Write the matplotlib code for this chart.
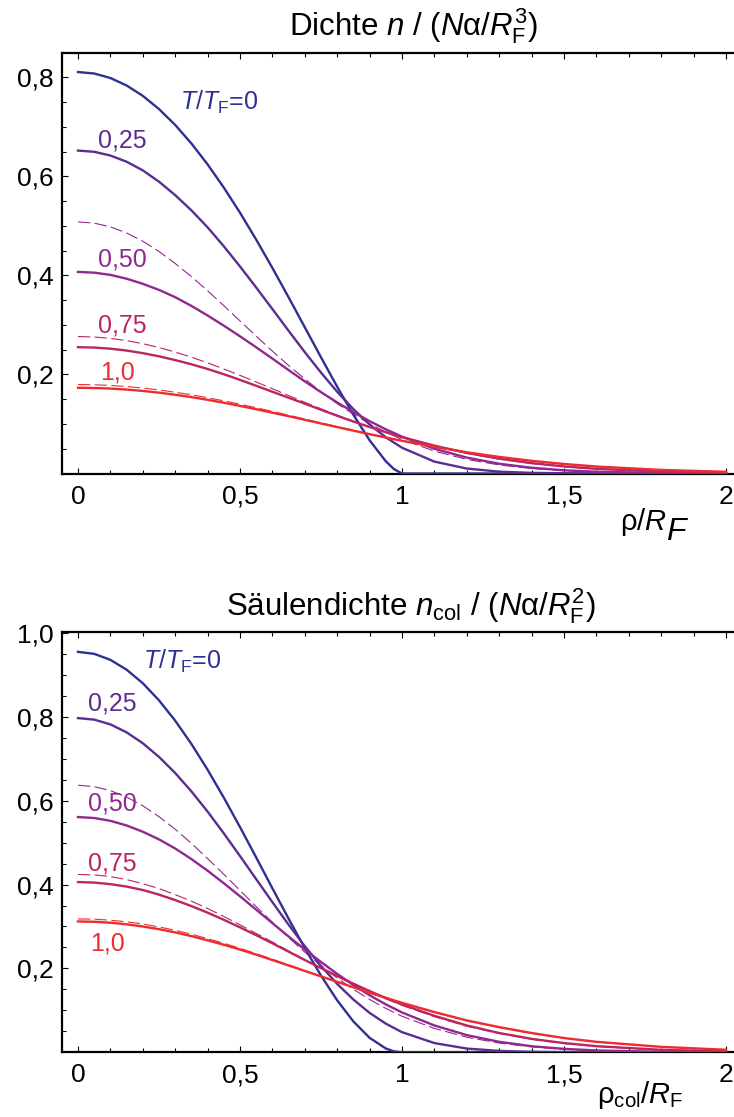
import matplotlib
matplotlib.use("Agg")
import matplotlib.pyplot as plt
from matplotlib.ticker import MultipleLocator, FixedLocator, FuncFormatter

plt.rcParams['font.family'] = ['Liberation Sans', 'DejaVu Sans']
plt.rcParams['mathtext.fontset'] = 'custom'
plt.rcParams['mathtext.rm'] = 'Liberation Sans'
plt.rcParams['mathtext.it'] = 'Liberation Sans:italic'
plt.rcParams['mathtext.sf'] = 'Liberation Sans'
plt.rcParams['mathtext.bf'] = 'Liberation Sans:bold'

# ---------------- data ----------------
x_t0 = [0, .05, .1, .15, .2, .25, .3, .35, .4, .45, .5, .55, .6, .65, .7,
        .75, .8, .85, .9, .95, .975, 1.0, 2.0]
x_grid = [0, .05, .1, .15, .2, .25, .3, .35, .4, .45, .5, .55, .6, .65, .7,
          .75, .8, .85, .9, .95, 1.0, 1.1, 1.2, 1.3, 1.4, 1.5, 1.6, 1.8, 2.0]

# density n
n3d_T000 = [0.8106, 0.8076, 0.7985, 0.7834, 0.7625, 0.7358, 0.7037, 0.6663, 0.6241, 0.5773,
            0.5265, 0.4722, 0.4150, 0.3557, 0.2952, 0.2346, 0.1751, 0.1185, 0.0671, 0.0247,
            0.0089, 0.0, 0.0]
n3d_T025 = [0.652, 0.6495, 0.642, 0.6295, 0.612, 0.5892, 0.562, 0.5313, 0.497, 0.4588,
            0.418, 0.3755, 0.332, 0.2881, 0.245, 0.2037, 0.165, 0.1299, 0.099, 0.0731,
            0.052, 0.024, 0.010, 0.0037, 0.0013, 0.0004, 0.0001, 0.0, 0.0]
n3d_T050 = [0.407, 0.4055, 0.401, 0.3933, 0.383, 0.3707, 0.356, 0.3384, 0.319, 0.2985,
            0.277, 0.2548, 0.232, 0.2088, 0.186, 0.1642, 0.1435, 0.1239, 0.1057, 0.0892,
            0.0744, 0.0500, 0.0321, 0.0197, 0.0116, 0.0065, 0.0035, 0.0009, 0.0002]
n3d_T075 = [0.255, 0.2543, 0.252, 0.2482, 0.243, 0.2366, 0.229, 0.2205, 0.211, 0.2004,
            0.189, 0.1771, 0.165, 0.1530, 0.141, 0.1287, 0.1165, 0.1049, 0.0939, 0.0834,
            0.0736, 0.0562, 0.0416, 0.0300, 0.0210, 0.0143, 0.0095, 0.0038, 0.0014]
n3d_T100 = [0.173, 0.1726, 0.1715, 0.1695, 0.1667, 0.1632, 0.159, 0.1542, 0.1488, 0.1429,
            0.1365, 0.1298, 0.1228, 0.1157, 0.1084, 0.1010, 0.0937, 0.0865, 0.0794, 0.0726,
            0.066, 0.0537, 0.0428, 0.0335, 0.0256, 0.0192, 0.0141, 0.0072, 0.0034]
n3d_cl050 = [0.508, 0.5055, 0.498, 0.4856, 0.469, 0.4483, 0.424, 0.3976, 0.369, 0.3388,
             0.308, 0.2774, 0.247, 0.2182, 0.191, 0.1649, 0.141, 0.1198, 0.1005, 0.0836,
             0.0687, 0.0452, 0.0285, 0.0173, 0.0101, 0.0056, 0.0030, 0.0008, 0.0002]
n3d_cl075 = [0.2765, 0.2756, 0.2728, 0.2683, 0.2621, 0.2544, 0.2452, 0.2348, 0.2234, 0.2111,
             0.1981, 0.1847, 0.1711, 0.1574, 0.1439, 0.1306, 0.1178, 0.1055, 0.0939, 0.0830,
             0.0729, 0.0551, 0.0405, 0.0290, 0.0203, 0.0138, 0.0091, 0.0037, 0.0013]
n3d_cl100 = [0.1796, 0.1792, 0.1778, 0.1756, 0.1726, 0.1687, 0.1641, 0.1589, 0.1530, 0.1467,
             0.1399, 0.1327, 0.1253, 0.1177, 0.1100, 0.1023, 0.0947, 0.0872, 0.0799, 0.0728,
             0.0661, 0.0536, 0.0426, 0.0331, 0.0253, 0.0189, 0.0139, 0.0070, 0.0033]

# column density n_col
ncol_T000 = [0.9549, 0.9502, 0.9359, 0.9124, 0.8801, 0.8393, 0.7908, 0.7353, 0.6738, 0.6073,
             0.5371, 0.4646, 0.3911, 0.3185, 0.2484, 0.1828, 0.1238, 0.0735, 0.0345, 0.0091,
             0.0023, 0.0, 0.0]
ncol_T025 = [0.797, 0.7933, 0.782, 0.7630, 0.737, 0.7044, 0.666, 0.6222, 0.574, 0.5221,
             0.468, 0.4129, 0.358, 0.3043, 0.253, 0.2058, 0.163, 0.1258, 0.094, 0.0683,
             0.048, 0.022, 0.0089, 0.0033, 0.0011, 0.0004, 0.0001, 0.0, 0.0]
ncol_T050 = [0.561, 0.5587, 0.552, 0.5409, 0.526, 0.5077, 0.486, 0.4608, 0.433, 0.4032,
             0.372, 0.3401, 0.308, 0.2761, 0.245, 0.2153, 0.187, 0.1604, 0.136, 0.1143,
             0.095, 0.064, 0.041, 0.025, 0.0145, 0.0082, 0.0044, 0.0011, 0.0002]
ncol_T075 = [0.406, 0.4047, 0.401, 0.3952, 0.387, 0.3760, 0.363, 0.3487, 0.333, 0.3160,
             0.298, 0.2793, 0.260, 0.2400, 0.220, 0.2008, 0.182, 0.1636, 0.146, 0.1294,
             0.114, 0.087, 0.064, 0.046, 0.032, 0.022, 0.0146, 0.0059, 0.0021]
ncol_T100 = [0.312, 0.3113, 0.309, 0.3052, 0.300, 0.2936, 0.286, 0.2770, 0.267, 0.2564,
             0.245, 0.2328, 0.220, 0.2071, 0.194, 0.1810, 0.168, 0.1549, 0.142, 0.1298,
             0.118, 0.096, 0.076, 0.060, 0.046, 0.034, 0.025, 0.013, 0.006]
ncol_cl050 = [0.637, 0.6334, 0.624, 0.6086, 0.588, 0.5618, 0.532, 0.4983, 0.462, 0.4246,
              0.386, 0.3476, 0.310, 0.2735, 0.239, 0.2067, 0.177, 0.1501, 0.126, 0.1047,
              0.086, 0.057, 0.036, 0.022, 0.013, 0.007, 0.004, 0.001, 0.0002]
ncol_cl075 = [0.424, 0.4230, 0.419, 0.4119, 0.402, 0.3905, 0.376, 0.3604, 0.343, 0.3240,
              0.304, 0.2835, 0.263, 0.2416, 0.221, 0.2005, 0.181, 0.1620, 0.144, 0.1274,
              0.112, 0.085, 0.062, 0.045, 0.031, 0.021, 0.014, 0.0056, 0.002]
ncol_cl100 = [0.318, 0.3175, 0.315, 0.3112, 0.306, 0.2990, 0.291, 0.2816, 0.271, 0.2600,
              0.248, 0.2352, 0.222, 0.2086, 0.195, 0.1814, 0.168, 0.1545, 0.142, 0.1291,
              0.117, 0.095, 0.075, 0.059, 0.045, 0.0335, 0.0246, 0.0125, 0.0058]

curve_labels = [r'$T/T_\mathrm{F}$=0', '0,25', '0,50', '0,75', '1,0']
x_ticks = [0, 0.5, 1, 1.5, 2]

colors = ['#2e3192', '#5b2d90', '#90288f', '#bb2563', '#ee2b2f']

# ---------------- figure ----------------
W, H = 734, 1117
fig = plt.figure(figsize=(W / 100, H / 100), dpi=100)


def fx(px):
    return px / W


def fy(py):
    return 1 - py / H


ax1 = fig.add_axes([fx(62), fy(473.5), fx(734 - 62), (473.5 - 53) / H])
ax2 = fig.add_axes([fx(62), fy(1052.3), fx(734 - 62), (1052.3 - 631.7) / H])

solid_lw = 1.7
dash_lw = 0.8
dash_pat = (11, 4)

panels = [
    (ax1, n3d_T000, [n3d_T025, n3d_T050, n3d_T075, n3d_T100],
     [n3d_cl050, n3d_cl075, n3d_cl100], (0, 0.849), [0.2, 0.4, 0.6, 0.8]),
    (ax2, ncol_T000, [ncol_T025, ncol_T050, ncol_T075, ncol_T100],
     [ncol_cl050, ncol_cl075, ncol_cl100], (0, 1.003), [0.2, 0.4, 0.6, 0.8, 1.0]),
]

for ax, t0, qs, cls, ylim, yt in panels:
    for cl, c in zip(cls, colors[2:]):
        ax.plot(x_grid, cl, color=c, lw=dash_lw, dashes=dash_pat, zorder=2)
    ax.plot(x_t0, t0, color=colors[0], lw=solid_lw, zorder=3)
    for q, c in zip(qs, colors[1:]):
        ax.plot(x_grid, q, color=c, lw=solid_lw, zorder=3)

    ax.set_xlim(-0.0494, 2.0247)
    ax.set_ylim(*ylim)
    ax.xaxis.set_major_locator(FixedLocator(x_ticks))
    ax.xaxis.set_minor_locator(MultipleLocator(0.1))
    ax.yaxis.set_major_locator(FixedLocator(yt))
    ax.yaxis.set_minor_locator(MultipleLocator(0.05))
    ax.xaxis.set_major_formatter(FuncFormatter(lambda v, p: f"{v:g}".replace('.', ',')))
    ax.yaxis.set_major_formatter(FuncFormatter(lambda v, p: f"{v:.1f}".replace('.', ',')))
    ax.tick_params(which='both', direction='in', top=True, right=False,
                   bottom=True, left=True, width=0.8, colors='black')
    ax.tick_params(which='major', length=4.5, labelsize=19)
    ax.tick_params(axis='x', which='major', pad=8)
    ax.tick_params(axis='y', which='major', pad=6)
    ax.tick_params(which='minor', length=2.8)
    for s in ['left', 'bottom', 'top']:
        ax.spines[s].set_linewidth(1.6)
    ax.spines['right'].set_visible(False)

# curve labels
lab_pos1 = [(0.315, 0.734), (0.062, 0.658), (0.062, 0.418), (0.062, 0.284), (0.068, 0.190)]
lab_pos2 = [(0.20, 0.915), (0.031, 0.815), (0.031, 0.577), (0.031, 0.434), (0.037, 0.2436)]
for ax, pos in [(ax1, lab_pos1), (ax2, lab_pos2)]:
    for (xx, yy), txt, c in zip(pos, curve_labels, colors):
        ax.text(xx, yy, txt, color=c, fontsize=18, ha='left', va='baseline')

# titles
fig.text(fx(413), fy(35), r'Dichte $n$ / ($N$α/$R_\mathrm{F}^3$)',
         ha='center', va='baseline', fontsize=22.5)
fig.text(fx(411), fy(615), r'Säulendichte $n_\mathrm{col}$ / ($N$α/$R_\mathrm{F}^2$)',
         ha='center', va='baseline', fontsize=22.5)

# axis labels
fig.text(fx(620), fy(530), r'ρ/$R$', ha='left', va='baseline', fontsize=21)
fig.text(fx(666), fy(540), r'$F$', ha='left', va='baseline', fontsize=23)
fig.text(fx(597), fy(1103), r'ρ$_\mathrm{col}$/$R_\mathrm{F}$', ha='left', va='baseline', fontsize=21)

fig.savefig('out.png', dpi=100)
